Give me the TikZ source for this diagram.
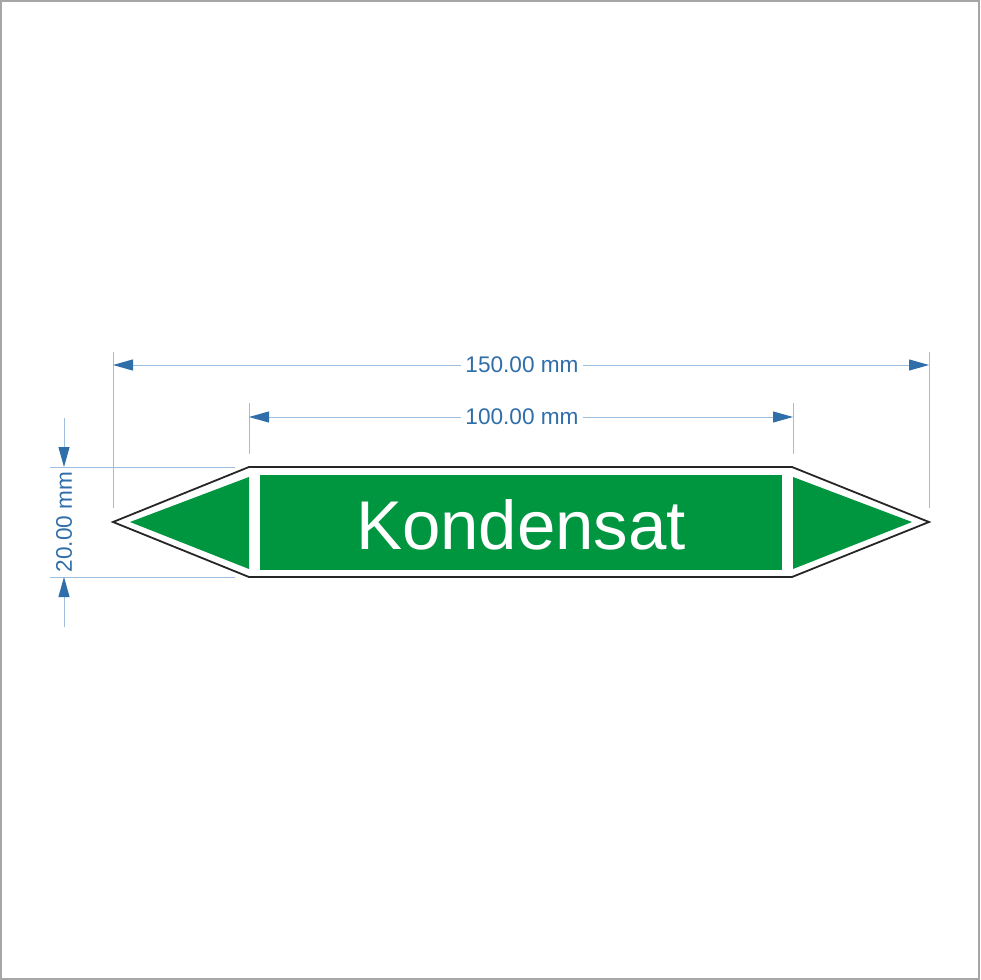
\documentclass[tikz,border=0pt]{standalone}
\usepackage{fontspec}
\setmainfont{Liberation Sans}
\usetikzlibrary{arrows.meta}
\definecolor{pipegreen}{HTML}{009640}
\definecolor{dimline}{HTML}{9EBEDF}
\definecolor{dimtext}{HTML}{2F6EA9}
\def\outershape{(113,522) -- (249,467) -- (792,467) -- (929,522) -- (792,577) -- (249,577) -- cycle}
\def\lefttip{(130,522) -- (249,477) -- (249,569) -- cycle}
\def\righttip{(912,522) -- (793,477) -- (793,569) -- cycle}
\def\middlefield{(260,475) rectangle (782,570)}
\tikzset{outline/.style={draw=black!85, line width=1.8pt, fill=white, line join=miter},
	greenfill/.style={fill=pipegreen},
	helpline/.style={draw=dimline, line width=1pt},
	dimarrow/.style={draw=dimline, line width=1pt, -{Triangle[length=20pt,width=11pt,color=dimtext]}},
	dimarrows/.style={draw=dimline, line width=1pt, {Triangle[length=20pt,width=11pt,color=dimtext]}-{Triangle[length=20pt,width=11pt,color=dimtext]}},
	dimlabel/.style={text=dimtext, font=\fontsize{22.6}{26}\selectfont, fill=white, inner sep=4pt}}

\begin{document}
\begin{tikzpicture}[x=1pt,y=-1pt]
		\useasboundingbox (0,0) rectangle (980,980);
		\draw[gray!70, line width=2pt] (1,1) rectangle (979,979);
		
		% sign
		\draw[outline] \outershape;
		\fill[greenfill] \lefttip;
		\fill[greenfill] \righttip;
		\fill[greenfill] \middlefield;
		\node[anchor=base, text=white, font=\fontsize{69}{80}\selectfont, inner sep=0pt] (medium) at (521,549) {Kondensat};
		
		% extension lines
		\draw[helpline] (113,352) -- (113,508);
		\draw[helpline] (929,352) -- (929,508);
		\draw[helpline] (249,403) -- (249,454);
		\draw[helpline] (793,403) -- (793,454);
		\draw[helpline] (50,467) -- (235,467);
		\draw[helpline] (50,577) -- (235,577);
		
		% dimensions
		\coordinate (w1) at (113,365);
		\coordinate (w2) at (929,365);
		\coordinate (v1) at (249,417);
		\coordinate (v2) at (793,417);
		\coordinate (h1) at (64,418);
		\coordinate (h1e) at (64,467);
		\coordinate (h2) at (64,627);
		\coordinate (h2e) at (64,577);
		\draw[dimarrows] (w1) -- (w2);
		\draw[dimarrows] (v1) -- (v2);
		\draw[dimarrow] (h1) -- (h1e);
		\draw[dimarrow] (h2) -- (h2e);
		\node[dimlabel] (total) at (522,365) {150.00 mm};
		\node[dimlabel] (field) at (522,417) {100.00 mm};
		\node[text=dimtext, font=\fontsize{22.6}{26}\selectfont, inner sep=0pt, rotate=90] (height) at (64,522) {20.00 mm};
		
		\end{tikzpicture}
\end{document}
